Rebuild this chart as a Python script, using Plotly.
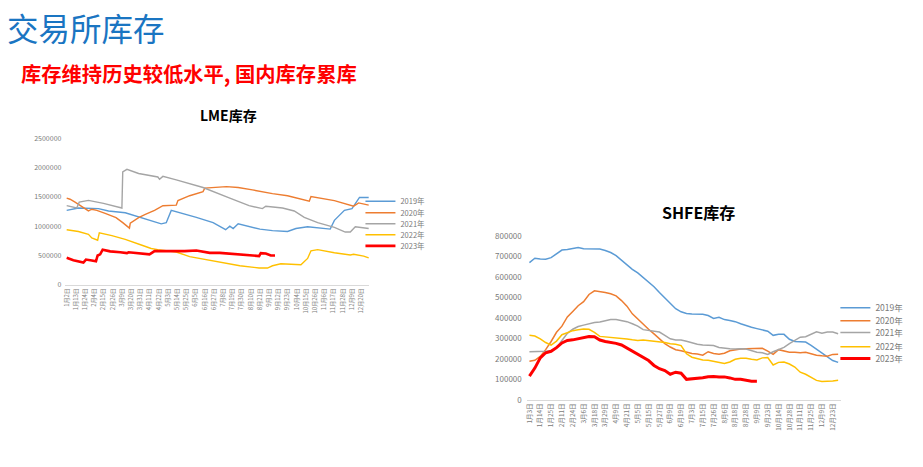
import pandas as pd
import plotly.graph_objects as go

# ---------------- categories / ticks ----------------
lme_days = pd.date_range("2023-01-02", "2023-12-31", freq="D")
lme_categories = [f"{d.month}月{d.day}日" for d in lme_days]
lme_ticks = lme_categories[::11]

shfe_dates = ["1月3日", "1月8日", "1月14日", "1月19日", "1月25日", "2月1日", "2月11日", "2月18日",
              "2月24日", "3月1日", "3月6日", "3月12日", "3月18日", "3月24日", "3月29日", "4月3日",
              "4月9日", "4月15日", "4月21日", "4月28日", "5月5日", "5月10日", "5月15日", "5月21日",
              "5月27日", "6月2日", "6月9日", "6月14日", "6月19日", "6月26日", "7月3日", "7月9日",
              "7月15日", "7月21日", "7月26日", "8月1日", "8月6日", "8月12日", "8月18日", "8月23日",
              "8月28日", "9月3日", "9月9日", "9月16日", "9月23日", "9月30日", "10月14日", "10月21日",
              "10月28日", "11月4日", "11月11日", "11月18日", "11月25日", "12月2日", "12月9日",
              "12月16日", "12月23日", "12月30日"]
shfe_ticks = shfe_dates[::2]

years = ["2019年", "2020年", "2021年", "2022年", "2023年"]
colors = ["#5B9BD5", "#ED7D31", "#A5A5A5", "#FFC000", "#FF0000"]

# ---------------- LME data (tonnes) ----------------
lme_2019_dates = ["1月2日", "1月16日", "2月9日", "2月21日", "3月13日", "4月1日", "4月21日", "4月25日",
                  "5月1日", "5月7日", "6月6日", "6月26日", "7月11日", "7月16日", "7月20日", "7月26日",
                  "8月21日", "9月5日", "9月23日", "10月3日", "10月17日", "11月13日", "11月18日",
                  "11月30日", "12月9日", "12月13日", "12月18日", "12月29日"]
lme_2019_values = [1270000, 1310000, 1300000, 1260000, 1230000, 1150000, 1060000, 1040000,
                   1060000, 1270000, 1150000, 1060000, 940000, 1000000, 960000, 1040000,
                   950000, 925000, 910000, 960000, 990000, 950000, 1100000,
                   1270000, 1300000, 1390000, 1490000, 1490000]

lme_2020_dates = ["1月2日", "1月6日", "1月12日", "1月18日", "1月28日", "2月1日", "2月7日", "2月17日",
                  "3月2日", "3月10日", "3月18日", "3月19日", "3月29日", "4月6日", "4月17日", "4月27日",
                  "5月13日", "5月15日", "5月29日", "6月14日", "6月16日", "7月12日", "7月26日", "8月12日",
                  "9月5日", "9月23日", "10月19日", "10月21日", "11月18日", "12月11日", "12月17日",
                  "12月29日"]
lme_2020_values = [1480000, 1460000, 1410000, 1350000, 1260000, 1290000, 1270000, 1220000,
                   1147000, 1060000, 967000, 1050000, 1147000, 1200000, 1270000, 1350000,
                   1360000, 1437000, 1520000, 1590000, 1650000, 1675000, 1660000, 1620000,
                   1555000, 1520000, 1425000, 1505000, 1437000, 1342000, 1397000,
                   1360000]

lme_2021_dates = ["1月2日", "1月14日", "1月17日", "1月28日", "2月15日", "3月9日", "3月10日", "3月15日",
                  "3月29日", "4月21日", "4月23日", "4月27日", "5月13日", "6月6日", "6月14日", "7月16日",
                  "8月8日", "8月24日", "8月28日", "9月17日", "10月1日", "10月13日", "10月29日",
                  "11月18日", "12月1日", "12月7日", "12月13日", "12月29日"]
lme_2021_values = [1350000, 1310000, 1410000, 1440000, 1390000, 1310000, 1925000, 1970000,
                   1900000, 1840000, 1800000, 1850000, 1790000, 1700000, 1660000, 1480000,
                   1350000, 1300000, 1340000, 1310000, 1260000, 1150000, 1060000,
                   980000, 900000, 900000, 990000, 960000]

lme_2022_dates = ["1月2日", "1月16日", "1月28日", "2月1日", "2月8日", "2月10日", "2月25日", "3月13日",
                  "4月2日", "4月13日", "4月21日", "4月27日", "5月13日", "5月29日", "6月26日", "7月28日",
                  "8月20日", "8月30日", "9月5日", "9月15日", "10月9日", "10月17日", "10月21日",
                  "10月29日", "11月18日", "12月7日", "12月11日", "12月23日", "12月29日"]
lme_2022_values = [940000, 910000, 860000, 800000, 760000, 885000, 840000, 775000,
                   675000, 620000, 600000, 590000, 560000, 480000, 410000, 325000,
                   286000, 286000, 325000, 358000, 342000, 450000, 580000,
                   600000, 547000, 508000, 520000, 490000, 460000]

lme_2023_dates = ["1月2日", "1月10日", "1月22日", "1月25日", "2月1日", "2月6日", "2月8日", "2月11日",
                  "2月14日", "2月23日", "3月7日", "3月15日", "3月17日", "3月31日", "4月11日", "4月17日",
                  "5月1日", "5月17日", "5月23日", "6月6日", "6月22日", "7月4日", "7月20日", "8月4日",
                  "8月20日", "8月22日", "8月28日", "9月3日", "9月8日"]
lme_2023_values = [460000, 420000, 380000, 430000, 415000, 400000, 500000, 520000,
                   600000, 570000, 556000, 540000, 555000, 530000, 520000, 575000,
                   572000, 565000, 575000, 585000, 545000, 545000, 525000, 515000,
                   490000, 540000, 535000, 500000, 500000]

# ---------------- SHFE data (thousand tonnes) ----------------
shfe_2019 = [671, 692, 688, 687, 695, 712, 732, 735, 740, 745, 739, 738, 737, 737, 730, 720,
             705, 683, 658, 638, 620, 598, 578, 553, 525, 497, 472, 445, 430, 422, 420, 420,
             418, 412, 398, 403, 392, 388, 382, 372, 362, 355, 348, 342, 335, 315, 320, 320,
             296, 285, 283, 282, 266, 247, 232, 213, 192, 183]
shfe_2020 = [188, 193, 212, 245, 285, 330, 360, 405, 432, 460, 480, 515, 533, 530, 525, 518,
             508, 485, 458, 420, 395, 365, 345, 322, 300, 275, 258, 245, 240, 233, 226, 224,
             218, 235, 226, 223, 228, 240, 245, 248, 250, 250, 250, 252, 238, 222, 245, 238,
             233, 232, 230, 232, 225, 218, 215, 213, 222, 223]
shfe_2021 = [235, 235, 236, 237, 240, 255, 290, 325, 345, 358, 365, 372, 378, 380, 388, 393,
             393, 387, 382, 372, 360, 343, 339, 338, 331, 315, 298, 292, 292, 286, 278, 272,
             268, 267, 265, 256, 252, 250, 248, 250, 248, 240, 233, 230, 222, 235, 245, 256,
             275, 292, 306, 308, 322, 332, 325, 331, 331, 323]
shfe_2022 = [315, 312, 298, 280, 267, 287, 318, 330, 338, 342, 346, 345, 330, 310, 308, 305,
             304, 302, 297, 293, 290, 292, 289, 288, 286, 280, 274, 272, 265, 225, 208, 200,
             195, 193, 188, 182, 177, 185, 198, 203, 203, 198, 195, 205, 207, 170, 183, 185,
             175, 160, 135, 125, 108, 95, 90, 90, 92, 95]
shfe_2023 = [116, 155, 205, 230, 237, 255, 278, 290, 293, 298, 305, 309, 308, 292, 285, 281,
             276, 268, 252, 236, 224, 208, 192, 168, 152, 143, 125, 135, 130, 100, 102, 105,
             108, 113, 114, 111, 112, 107, 100, 100, 96, 91, 91]

FONT = "Noto Sans CJK SC"
TICK_COLOR = "#7a7a7a"

fig = go.Figure()

lme_series = [(lme_2019_dates, lme_2019_values), (lme_2020_dates, lme_2020_values),
              (lme_2021_dates, lme_2021_values), (lme_2022_dates, lme_2022_values),
              (lme_2023_dates, lme_2023_values)]
for i, (xs, ys) in enumerate(lme_series):
    fig.add_trace(go.Scatter(
        x=xs, y=ys, mode="lines", name=years[i],
        line=dict(color=colors[i], width=2.6 if i == 4 else 1.4),
        xaxis="x", yaxis="y", showlegend=True,
        legend="legend" if i == 0 else f"legend{i + 1}",
    ))

shfe_series = [shfe_2019, shfe_2020, shfe_2021, shfe_2022, shfe_2023]
for i, vals in enumerate(shfe_series):
    fig.add_trace(go.Scatter(
        x=shfe_dates[:len(vals)], y=[v * 1000 for v in vals], mode="lines", name=years[i],
        line=dict(color=colors[i], width=3.0 if i == 4 else 1.5),
        xaxis="x2", yaxis="y2", showlegend=True,
        legend=f"legend{i + 6}",
    ))

W, H = 923, 467


def px(x):
    return x / W


def py(y):
    return 1 - y / H


axis_common = dict(showgrid=False, zeroline=False, ticks="")

layout = dict(
    width=W, height=H,
    showlegend=True,
    margin=dict(l=0, r=0, t=0, b=0),
    paper_bgcolor="white", plot_bgcolor="white",
    font=dict(family=FONT, color=TICK_COLOR),
    xaxis=dict(domain=[px(61.7), px(366.7)], anchor="y", type="category",
               categoryorder="array", categoryarray=lme_categories,
               tickmode="array", tickvals=lme_ticks, tickangle=-90,
               tickfont=dict(size=6, color=TICK_COLOR), range=[-1.5, 361.5],
               showline=True, linecolor="#d9d9d9", linewidth=1, **axis_common),
    yaxis=dict(domain=[py(285.5), py(135.5)], anchor="x", range=[0, 2500000], dtick=500000,
               tickformat="d", tickfont=dict(size=7, color=TICK_COLOR), showline=False,
               ticklabelstandoff=3, **axis_common),
    xaxis2=dict(domain=[px(525), px(840.5)], anchor="y2", type="category",
                categoryorder="array", categoryarray=shfe_dates,
                tickmode="array", tickvals=shfe_ticks, tickangle=-90,
                tickfont=dict(size=6.5, color=TICK_COLOR), range=[-0.5, 57.5],
                showline=True, linecolor="#d9d9d9", linewidth=1, **axis_common),
    yaxis2=dict(domain=[py(403.3), py(235.7)], anchor="x2", range=[0, 800000], dtick=100000,
                tickformat="d", tickfont=dict(size=8, color=TICK_COLOR), showline=False,
                ticklabelstandoff=4, **axis_common),
    annotations=[
        dict(text="交易所库存", x=px(1), y=py(22), xref="paper", yref="paper",
             xanchor="left", yanchor="middle", showarrow=False,
             font=dict(family=FONT, size=31.5, color="#1a75c2")),
        dict(text="<b>库存维持历史较低水平, 国内库存累库</b>", x=px(15), y=py(69),
             xref="paper", yref="paper", xanchor="left", yanchor="middle", showarrow=False,
             font=dict(family=FONT, size=20.3, color="#ff0000")),
        dict(text="<b>LME库存</b>", x=px(225.5), y=py(112), xref="paper", yref="paper",
             xanchor="center", yanchor="middle", showarrow=False,
             font=dict(family=FONT, size=14, color="#000000")),
        dict(text="<b>SHFE库存</b>", x=px(697.5), y=py(211), xref="paper", yref="paper",
             xanchor="center", yanchor="middle", showarrow=False,
             font=dict(family=FONT, size=16, color="#000000")),
    ],
)

lme_leg_y = [200, 211.7, 223, 234.3, 245.7]
shfe_leg_y = [309, 322.3, 334.3, 349, 361]
for i in range(5):
    key = "legend" if i == 0 else f"legend{i + 1}"
    layout[key] = dict(x=px(358), y=py(lme_leg_y[i]), xanchor="left", yanchor="middle",
                       bgcolor="rgba(0,0,0,0)", borderwidth=0, visible=True,
                       font=dict(family=FONT, size=7.5, color=TICK_COLOR))
    layout[f"legend{i + 6}"] = dict(x=px(835), y=py(shfe_leg_y[i]), xanchor="left",
                                    yanchor="middle", bgcolor="rgba(0,0,0,0)", borderwidth=0,
                                    visible=True,
                                    font=dict(family=FONT, size=8.5, color=TICK_COLOR))

fig.update_layout(**layout)
fig.write_html(
    "out.html",
    config={"displayModeBar": False},
    post_script="document.body.style.margin='0';document.body.style.overflow='hidden';",
)
